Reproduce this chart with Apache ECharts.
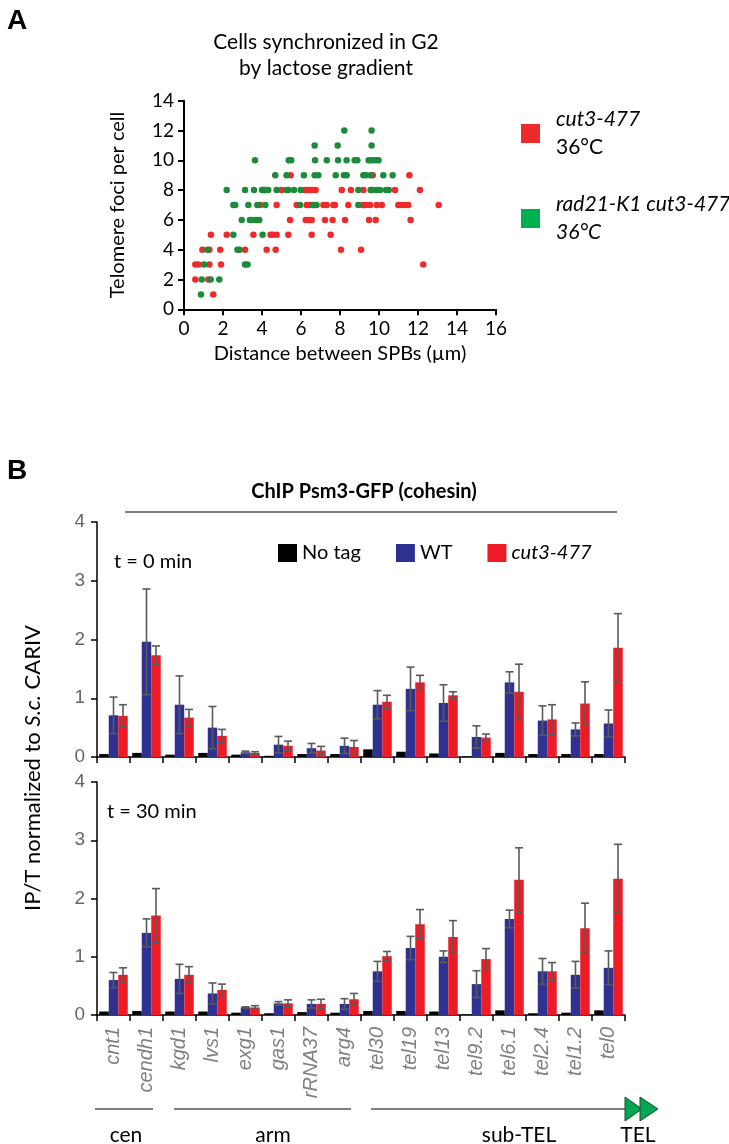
<!DOCTYPE html>
<html>
<head>
<meta charset="utf-8">
<script src="https://cdn.jsdelivr.net/npm/echarts@6/dist/echarts.min.js"></script>
<style>
  html, body { margin: 0; padding: 0; background: #fff; }
  #main { width: 729px; height: 1144px; }
</style>
</head>
<body>
<div id="main"></div>
<script>
// A: telomere foci vs SPB distance (x = µm, y = foci)
var redPoints = [
    [1.50, 1],
    [0.58, 2], [1.25, 2],
    [0.58, 3], [0.74, 3], [1.30, 3], [1.90, 3], [12.27, 3],
    [0.94, 4], [1.30, 4], [1.86, 4], [3.13, 4], [4.24, 4], [4.70, 4], [8.05, 4], [9.08, 4],
    [1.38, 5], [2.19, 5], [3.56, 5], [4.44, 5], [4.55, 5], [4.75, 5], [5.35, 5], [6.55, 5], [7.52, 5],
    [5.44, 6], [6.24, 6], [6.38, 6], [6.55, 6], [7.23, 6], [7.62, 6], [8.26, 6], [9.49, 6], [9.83, 6], [11.62, 6],
    [3.90, 7], [4.75, 7], [5.78, 7], [6.29, 7], [6.46, 7], [6.63, 7], [7.15, 7], [7.32, 7], [7.66, 7], [7.74, 7],
    [8.43, 7], [9.16, 7], [9.33, 7], [9.54, 7], [9.88, 7], [10.14, 7], [10.99, 7], [11.16, 7], [11.33, 7], [11.50, 7], [13.06, 7],
    [4.10, 8], [5.00, 8], [6.20, 8], [6.29, 8], [6.43, 8], [6.55, 8], [6.75, 8], [8.09, 8], [8.56, 8], [9.20, 8], [10.82, 8], [12.10, 8],
    [5.47, 9], [9.68, 9], [11.56, 9]
];
var greenPoints = [
    [0.87, 1],
    [0.91, 2], [1.37, 2], [1.81, 2],
    [1.03, 3], [3.13, 3], [3.26, 3],
    [1.20, 4], [2.74, 4], [2.84, 4],
    [2.53, 5], [4.03, 5],
    [2.96, 6], [3.38, 6], [3.47, 6], [3.69, 6], [3.86, 6],
    [2.53, 7], [2.63, 7], [3.30, 7], [3.76, 7], [4.17, 7], [5.95, 7], [6.63, 7], [6.80, 7], [8.94, 7],
    [2.19, 8], [3.13, 8], [3.59, 8], [4.00, 8], [4.10, 8], [4.20, 8], [4.32, 8], [4.75, 8], [5.26, 8], [5.35, 8],
    [5.64, 8], [5.98, 8], [8.94, 8], [9.57, 8], [9.67, 8], [9.88, 8], [10.05, 8], [10.36, 8], [10.50, 8],
    [4.68, 9], [5.26, 9], [6.15, 9], [6.70, 9], [6.89, 9], [7.78, 9], [8.20, 9], [8.34, 9], [9.20, 9], [9.33, 9], [9.57, 9], [10.22, 9], [10.70, 9],
    [3.64, 10], [5.37, 10], [5.50, 10], [6.72, 10], [7.32, 10], [7.90, 10], [8.34, 10], [8.75, 10], [8.89, 10], [9.47, 10], [9.57, 10], [9.71, 10], [9.88, 10], [9.98, 10],
    [6.70, 11], [7.88, 11], [9.62, 11],
    [8.22, 12], [9.62, 12]
];

// B: ChIP Psm3-GFP, IP/T normalized to S.c. CARIV
var genes = ['cnt1', 'cendh1', 'kgd1', 'lvs1', 'exg1', 'gas1', 'rRNA37', 'arg4',
    'tel30', 'tel19', 'tel13', 'tel9.2', 'tel6.1', 'tel2.4', 'tel1.2', 'tel0'];
// t = 0 min
var noTag0 = [0.05, 0.07, 0.04, 0.07, 0.04, 0.02, 0.05, 0.05, 0.13, 0.09, 0.06, 0.01, 0.07, 0.05, 0.05, 0.05];
var wt0 = [0.71, 1.96, 0.89, 0.50, 0.08, 0.21, 0.15, 0.19, 0.89, 1.16, 0.92, 0.34, 1.27, 0.62, 0.47, 0.57];
var wt0Err = [0.31, 0.90, 0.49, 0.36, 0.02, 0.14, 0.08, 0.13, 0.24, 0.37, 0.31, 0.19, 0.18, 0.25, 0.11, 0.23];
var cut0 = [0.70, 1.73, 0.67, 0.36, 0.07, 0.19, 0.11, 0.17, 0.94, 1.27, 1.05, 0.33, 1.11, 0.64, 0.91, 1.86];
var cut0Err = [0.19, 0.16, 0.14, 0.11, 0.02, 0.08, 0.07, 0.11, 0.11, 0.12, 0.06, 0.06, 0.47, 0.25, 0.37, 0.58];
// t = 30 min
var noTag30 = [0.06, 0.07, 0.06, 0.06, 0.04, 0.03, 0.05, 0.04, 0.07, 0.07, 0.06, 0.01, 0.08, 0.03, 0.04, 0.08];
var wt30 = [0.60, 1.41, 0.62, 0.37, 0.13, 0.20, 0.19, 0.19, 0.75, 1.15, 1.00, 0.53, 1.65, 0.75, 0.69, 0.81];
var wt30Err = [0.13, 0.24, 0.25, 0.18, 0.01, 0.03, 0.07, 0.09, 0.17, 0.20, 0.10, 0.23, 0.15, 0.22, 0.23, 0.29];
var cut30 = [0.69, 1.71, 0.69, 0.43, 0.13, 0.20, 0.19, 0.27, 1.01, 1.56, 1.34, 0.96, 2.32, 0.75, 1.49, 2.34];
var cut30Err = [0.12, 0.46, 0.14, 0.10, 0.03, 0.06, 0.08, 0.10, 0.08, 0.25, 0.28, 0.18, 0.55, 0.15, 0.43, 0.59];

var calibri = 'Lato, "Open Sans", sans-serif';
var arial = '"Liberation Sans", Arial, sans-serif';
var narrow = '"Liberation Sans Narrow", "Liberation Sans", sans-serif';
var barW = 9.5;

function errItems(vals, errs) {
    return genes.map(function (g, i) { return [i, vals[i], errs[i]]; });
}

// error bar with caps, shifted sideways onto its bar
function errRender(offset) {
    return function (params, api) {
        var i = api.value(0), m = api.value(1), e = api.value(2);
        var hi = api.coord([i, m + e]);
        var lo = api.coord([i, m - e]);
        var x = hi[0] + offset;
        var st = { stroke: '#5a5a5a', lineWidth: 1.6 };
        return {
            type: 'group',
            children: [
                { type: 'line', shape: { x1: x, y1: hi[1], x2: x, y2: lo[1] }, style: st },
                { type: 'line', shape: { x1: x - 4, y1: hi[1], x2: x + 4, y2: hi[1] }, style: st },
                { type: 'line', shape: { x1: x - 4, y1: lo[1], x2: x + 4, y2: lo[1] }, style: st }
            ]
        };
    };
}

function barSeries(idx, noTag, wt, wtErr, cut, cutErr) {
    return [
        { name: 'No tag', type: 'bar', xAxisIndex: idx, yAxisIndex: idx, data: noTag,
          barWidth: barW, barGap: '0%', itemStyle: { color: '#000' } },
        { name: 'WT', type: 'bar', xAxisIndex: idx, yAxisIndex: idx, data: wt,
          barWidth: barW, barGap: '0%', itemStyle: { color: '#2e3192' } },
        { name: 'cut3-477', type: 'bar', xAxisIndex: idx, yAxisIndex: idx, data: cut,
          barWidth: barW, barGap: '0%', itemStyle: { color: '#ed1c24' } },
        { type: 'custom', xAxisIndex: idx, yAxisIndex: idx, z: 5, silent: true,
          renderItem: errRender(0), data: errItems(wt, wtErr) },
        { type: 'custom', xAxisIndex: idx, yAxisIndex: idx, z: 5, silent: true,
          renderItem: errRender(barW), data: errItems(cut, cutErr) }
    ];
}

function barYAxis(idx) {
    return {
        type: 'value', gridIndex: idx, min: 0, max: 4, interval: 1,
        axisLine: { show: true, lineStyle: { color: '#000', width: 1.5 } },
        axisTick: { show: true, length: 6, lineStyle: { color: '#000', width: 1.5 } },
        axisLabel: { color: '#666', fontFamily: narrow, fontSize: 19, margin: 12 },
        splitLine: { show: false }
    };
}

function barXAxis(idx, showLabels) {
    return {
        type: 'category', gridIndex: idx, data: genes,
        axisLine: { lineStyle: { color: '#000', width: 1.5 } },
        axisTick: { show: true, length: 6, lineStyle: { color: '#000', width: 1.5 } },
        axisLabel: {
            show: showLabels, interval: 0, rotate: 90, margin: 12,
            color: '#808080', fontFamily: arial, fontStyle: 'italic', fontSize: 20
        }
    };
}

var dom = document.getElementById('main');
var myChart = echarts.init(dom);

var option = {
    backgroundColor: '#fff',
    animation: false,
    title: [
        { text: 'A', left: 2, top: 2, textStyle: { fontFamily: arial, fontWeight: 'bold', fontSize: 28, color: '#000' } },
        { text: 'Cells synchronized in G2\nby lactose gradient', left: 321, top: 24, textAlign: 'center',
          textStyle: { fontFamily: calibri, fontWeight: 'normal', fontSize: 21, lineHeight: 26, color: '#000' } },
        { text: 'B', left: 2, top: 452, textStyle: { fontFamily: arial, fontWeight: 'bold', fontSize: 28, color: '#000' } },
        { text: 'ChIP Psm3-GFP (cohesin)', left: 359, top: 477, textAlign: 'center',
          textStyle: { fontFamily: calibri, fontWeight: 'bold', fontSize: 20, color: '#000' } }
    ],
    legend: [
        {
            data: [
                { name: 'cut3-477 36°C', itemStyle: { color: '#ee2a2a' } },
                { name: 'rad21-K1 cut3-477 36°C', itemStyle: { color: '#00b050' } }
            ],
            orient: 'vertical', left: 516, top: 104, icon: 'rect',
            itemWidth: 19, itemHeight: 19, itemGap: 36,
            formatter: function (name) {
                if (name === 'cut3-477 36°C') return '{i|cut3-477}\n{n|36°C}';
                return '{i|rad21-K1 cut3-477}\n{i|36°C}';
            },
            textStyle: {
                padding: [0, 0, 0, 11],
                rich: {
                    i: { fontFamily: calibri, fontStyle: 'italic', fontSize: 21, lineHeight: 28, color: '#000' },
                    n: { fontFamily: calibri, fontSize: 21, lineHeight: 28, color: '#000' }
                }
            }
        },
        {
            data: ['No tag', 'WT', 'cut3-477'],
            left: 273, top: 538, icon: 'rect',
            itemWidth: 19, itemHeight: 18, itemGap: 35,
            formatter: function (name) {
                return name === 'cut3-477' ? '{i|cut3-477}' : '{n|' + name + '}';
            },
            textStyle: {
                rich: {
                    i: { fontFamily: calibri, fontStyle: 'italic', fontSize: 20, color: '#000' },
                    n: { fontFamily: calibri, fontSize: 20, color: '#000' }
                }
            }
        }
    ],
    grid: [
        { left: 184, top: 100.7, width: 312, height: 208.6 },
        { left: 97, top: 522, width: 528, height: 235 },
        { left: 97, top: 782, width: 528, height: 233 }
    ],
    xAxis: [
        {
            type: 'value', gridIndex: 0, min: 0, max: 16, interval: 2,
            name: 'Distance between SPBs (µm)', nameLocation: 'middle', nameGap: 34,
            nameTextStyle: { fontFamily: calibri, fontSize: 20, color: '#000' },
            axisLine: { lineStyle: { color: '#000', width: 2 } },
            axisTick: { length: 6, lineStyle: { color: '#000', width: 2 } },
            axisLabel: { fontFamily: calibri, fontSize: 19, color: '#000', margin: 10 },
            splitLine: { show: false }
        },
        barXAxis(1, false),
        barXAxis(2, true)
    ],
    yAxis: [
        {
            type: 'value', gridIndex: 0, min: 0, max: 14, interval: 2,
            name: 'Telomere foci per cell', nameLocation: 'middle', nameGap: 56,
            nameTextStyle: { fontFamily: calibri, fontSize: 20, color: '#000' },
            axisLine: { show: true, lineStyle: { color: '#000', width: 2 } },
            axisTick: { show: true, length: 6, lineStyle: { color: '#000', width: 2 } },
            axisLabel: { fontFamily: calibri, fontSize: 19, color: '#000', margin: 10 },
            splitLine: { show: false }
        },
        barYAxis(1),
        barYAxis(2)
    ],
    series: [
        { name: 'cut3-477 36°C', type: 'scatter', xAxisIndex: 0, yAxisIndex: 0, data: redPoints,
          symbolSize: 6.5, itemStyle: { color: '#ee2a2a', opacity: 1 } },
        { name: 'rad21-K1 cut3-477 36°C', type: 'scatter', xAxisIndex: 0, yAxisIndex: 0, data: greenPoints,
          symbolSize: 6.5, itemStyle: { color: '#1e8a3c', opacity: 1 } }
    ].concat(
        barSeries(1, noTag0, wt0, wt0Err, cut0, cut0Err),
        barSeries(2, noTag30, wt30, wt30Err, cut30, cut30Err)
    ),
    graphic: [
        // rule under panel B title
        { type: 'line', shape: { x1: 125, y1: 512, x2: 617, y2: 512 }, style: { stroke: '#000', lineWidth: 1.2 } },
        { type: 'text', x: 114, y: 552, style: { text: 't = 0 min', font: '20px ' + calibri, fill: '#000' } },
        { type: 'text', x: 107, y: 802, style: { text: 't = 30 min', font: '20px ' + calibri, fill: '#000' } },
        {
            type: 'text', x: 33, y: 768, rotation: Math.PI / 2,
            style: {
                text: 'IP/T normalized to {i|S.c.} CARIV',
                font: '22px ' + calibri, fill: '#000', align: 'center', verticalAlign: 'middle',
                rich: { i: { fontFamily: calibri, fontSize: 22, fontStyle: 'italic', fill: '#000' } }
            }
        },
        // region brackets under gene names
        { type: 'line', shape: { x1: 95, y1: 1109, x2: 153, y2: 1109 }, style: { stroke: '#000', lineWidth: 1.2 } },
        { type: 'line', shape: { x1: 174, y1: 1109, x2: 351, y2: 1109 }, style: { stroke: '#000', lineWidth: 1.2 } },
        { type: 'line', shape: { x1: 371, y1: 1109, x2: 626, y2: 1109 }, style: { stroke: '#000', lineWidth: 1.2 } },
        { type: 'polygon', shape: { points: [[625, 1097], [642, 1109], [625, 1121]] }, style: { fill: '#00a651', stroke: '#1a4d2a', lineWidth: 1 } },
        { type: 'polygon', shape: { points: [[640, 1097], [658, 1109], [640, 1121]] }, style: { fill: '#00a651', stroke: '#1a4d2a', lineWidth: 1 } },
        { type: 'text', x: 126, y: 1135, style: { text: 'cen', font: '21px ' + calibri, fill: '#000', align: 'center', verticalAlign: 'middle' } },
        { type: 'text', x: 273, y: 1135, style: { text: 'arm', font: '21px ' + calibri, fill: '#000', align: 'center', verticalAlign: 'middle' } },
        { type: 'text', x: 519, y: 1135, style: { text: 'sub-TEL', font: '21px ' + calibri, fill: '#000', align: 'center', verticalAlign: 'middle' } },
        { type: 'text', x: 638, y: 1135, style: { text: 'TEL', font: '21px ' + calibri, fill: '#000', align: 'center', verticalAlign: 'middle' } }
    ]
};

myChart.setOption(option);
</script>
</body>
</html>
